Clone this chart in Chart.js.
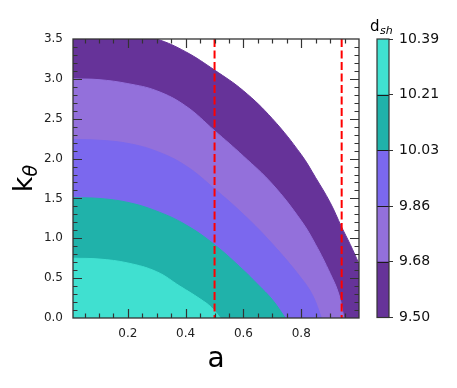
<!DOCTYPE html>
<html><head><meta charset="utf-8">
<script src="https://cdn.jsdelivr.net/npm/chart.js@4/dist/chart.umd.min.js"></script>
<style>
html,body{margin:0;padding:0;background:#fff;}
#wrap{position:relative;width:457px;height:388px;background:#fff;}
canvas{position:absolute;left:0;top:0;}
</style></head><body>
<div id="wrap"><canvas id="main" width="457" height="388"></canvas><canvas id="cbar" width="457" height="388"></canvas></div>
<script>
// contour levels of d_sh and band colours
const levels = [9.500, 9.678, 9.856, 10.034, 10.212, 10.390];
const bandColors = ['#663399', '#9370DB', '#7B68EE', '#20B2AA', '#40E0D0'];

// boundary curves k_theta(a)
const aEdge = [0.01, 0.1, 0.2, 0.3, 0.4, 0.5, 0.6, 0.7, 0.8, 0.85, 0.9, 0.94, 0.97, 1.0];
const kEdge = [3.66, 3.64, 3.58, 3.50, 3.34, 3.11, 2.85, 2.50, 2.05, 1.76, 1.45, 1.14, 0.92, 0.68];
const a968 = [0.01, 0.1, 0.2, 0.3, 0.4, 0.5, 0.6, 0.7, 0.8, 0.85, 0.9, 0.93, 0.948];
const k968 = [3.00, 2.99, 2.94, 2.85, 2.66, 2.35, 2.03, 1.68, 1.22, 0.92, 0.56, 0.30, 0.0];
const a986 = [0.01, 0.1, 0.2, 0.3, 0.4, 0.5, 0.6, 0.7, 0.8, 0.84, 0.87];
const k986 = [2.24, 2.23, 2.19, 2.09, 1.91, 1.62, 1.30, 0.93, 0.50, 0.28, 0.0];
const a1003 = [0.01, 0.1, 0.2, 0.3, 0.4, 0.5, 0.6, 0.65, 0.7, 0.745];
const k1003 = [1.51, 1.50, 1.45, 1.34, 1.17, 0.92, 0.60, 0.42, 0.23, 0.0];
const a1021 = [0.01, 0.1, 0.2, 0.3, 0.38, 0.45, 0.49, 0.52];
const k1021 = [0.75, 0.74, 0.69, 0.58, 0.40, 0.24, 0.13, 0.0];

// dashed vertical markers
const dashedA = [0.5, 0.94];

// tick labels
const xTickValues = [0.2, 0.4, 0.6, 0.8];
const yTickValues = [0.0, 0.5, 1.0, 1.5, 2.0, 2.5, 3.0, 3.5];
const xMinorStep = 0.05, yMinorStep = 0.1;

const FONT = "'DejaVu Sans', sans-serif";
const curves = [[aEdge, kEdge], [a968, k968], [a986, k986], [a1003, k1003], [a1021, k1021]];

const datasets = curves.map(([A, K], i) => ({
  data: A.map((x, j) => ({x: x, y: K[j]})),
  backgroundColor: bandColors[i],
  borderColor: bandColors[i],
  borderWidth: 1,
  pointRadius: 0,
  fill: 'origin',
  tension: 0.4,
  order: 10 - i
}));
dashedA.forEach(x => datasets.push({
  data: [{x: x, y: 3.5}, {x: x, y: 0}],
  borderColor: '#ff0000',
  borderWidth: 2,
  borderDash: [8, 3.5],
  pointRadius: 0,
  fill: false,
  order: 0
}));

const framePlugin = {
  id: 'frame',
  afterDatasetsDraw(chart) {
    const ctx = chart.ctx, ca = chart.chartArea;
    const xs = chart.scales.x, ys = chart.scales.y;
    ctx.save();
    ctx.strokeStyle = '#333';
    ctx.lineWidth = 1.2;
    const majL = 9, minL = 4.5;
    function vt(px, len) {
      ctx.beginPath();
      ctx.moveTo(px, ca.bottom); ctx.lineTo(px, ca.bottom - len);
      ctx.moveTo(px, ca.top); ctx.lineTo(px, ca.top + len);
      ctx.stroke();
    }
    function ht(py, len) {
      ctx.beginPath();
      ctx.moveTo(ca.left, py); ctx.lineTo(ca.left + len, py);
      ctx.moveTo(ca.right, py); ctx.lineTo(ca.right - len, py);
      ctx.stroke();
    }
    for (let i = 1; i * xMinorStep < xs.max; i++) {
      const v = i * xMinorStep;
      const major = xTickValues.some(t => Math.abs(t - v) < 1e-6);
      vt(Math.round(xs.getPixelForValue(v)) + 0.5, major ? majL : minL);
    }
    for (let i = 1; i * yMinorStep < ys.max - 1e-6; i++) {
      const v = i * yMinorStep;
      const major = yTickValues.some(t => Math.abs(t - v) < 1e-6);
      ht(Math.round(ys.getPixelForValue(v)) + 0.5, major ? majL : minL);
    }
    ctx.lineWidth = 1.3;
    ctx.strokeRect(ca.left, ca.top, ca.right - ca.left, ca.bottom - ca.top);
    ctx.restore();
  },
  afterDraw(chart) {
    const ctx = chart.ctx, ca = chart.chartArea;
    ctx.save();
    ctx.fillStyle = '#000';
    ctx.font = "28px " + FONT;
    ctx.textAlign = 'center';
    ctx.textBaseline = 'alphabetic';
    ctx.fillText('a', (ca.left + ca.right) / 2, 367);
    ctx.translate(31.5, (ca.top + ca.bottom) / 2);
    ctx.rotate(-Math.PI / 2);
    ctx.textAlign = 'left';
    ctx.font = "27px " + FONT;
    const wk = ctx.measureText('k').width;
    ctx.font = "italic 19px " + FONT;
    const wt = ctx.measureText('θ').width;
    const x0 = -(wk + wt) / 2;
    ctx.font = "27px " + FONT;
    ctx.fillText('k', x0, 0);
    ctx.font = "italic 19px " + FONT;
    ctx.fillText('θ', x0 + wk, 5);
    ctx.restore();
  }
};

new Chart(document.getElementById('main'), {
  type: 'line',
  data: {datasets: datasets},
  options: {
    responsive: false,
    animation: false,
    devicePixelRatio: 1,
    layout: {padding: {left: 0, top: 39, right: 98, bottom: 0}},
    plugins: {legend: {display: false}, tooltip: {enabled: false}},
    scales: {
      x: {
        type: 'linear', min: 0.01, max: 1.0,
        afterBuildTicks: s => { s.ticks = xTickValues.map(v => ({value: v})); },
        afterFit: s => { s.height = 70; },
        ticks: {font: {family: FONT, size: 12}, color: '#222', padding: 9,
                callback: v => Number(v).toFixed(1), maxRotation: 0, autoSkip: false},
        grid: {display: false, drawTicks: false},
        border: {display: false}
      },
      y: {
        type: 'linear', min: 0, max: 3.5,
        afterBuildTicks: s => { s.ticks = yTickValues.map(v => ({value: v})); },
        afterFit: s => { s.width = 73; },
        ticks: {font: {family: FONT, size: 12}, color: '#222', padding: 10,
                callback: v => Number(v).toFixed(1), autoSkip: false},
        grid: {display: false, drawTicks: false},
        border: {display: false}
      }
    }
  },
  plugins: [framePlugin]
});

const cbarPlugin = {
  id: 'cbarFrame',
  afterDatasetsDraw(chart) {
    const ctx = chart.ctx, ca = chart.chartArea, ys = chart.scales.y;
    ctx.save();
    ctx.strokeStyle = '#1a1a1a';
    ctx.lineWidth = 1;
    for (let i = 1; i < levels.length - 1; i++) {
      const py = Math.round(ys.getPixelForValue(levels[i])) + 0.5;
      ctx.beginPath(); ctx.moveTo(ca.left, py); ctx.lineTo(ca.right, py); ctx.stroke();
    }
    ctx.strokeStyle = '#333';
    ctx.lineWidth = 1.2;
    ctx.strokeRect(ca.left, ca.top, ca.right - ca.left, ca.bottom - ca.top);
    ctx.restore();
  },
  afterDraw(chart) {
    const ctx = chart.ctx;
    ctx.save();
    ctx.fillStyle = '#000';
    ctx.textBaseline = 'alphabetic';
    ctx.font = "15px " + FONT;
    ctx.fillText('d', 370, 31);
    const wd = ctx.measureText('d').width;
    ctx.font = "italic 11px " + FONT;
    ctx.fillText('sh', 370 + wd + 0.5, 34);
    ctx.restore();
  }
};

new Chart(document.getElementById('cbar'), {
  type: 'bar',
  data: {
    labels: ['d'],
    datasets: bandColors.map((c, i) => ({
      data: [[levels[i], levels[i + 1]]],
      backgroundColor: c,
      borderWidth: 0,
      barPercentage: 1,
      categoryPercentage: 1,
      grouped: false
    }))
  },
  options: {
    responsive: false,
    animation: false,
    devicePixelRatio: 1,
    layout: {padding: {left: 377, top: 39, right: 0, bottom: 70.5}},
    plugins: {legend: {display: false}, tooltip: {enabled: false}},
    scales: {
      x: {display: false},
      y: {
        position: 'right', min: levels[0], max: levels[levels.length - 1],
        afterBuildTicks: s => { s.ticks = levels.map(v => ({value: v})); },
        afterFit: s => { s.width = 68; },
        ticks: {font: {family: FONT, size: 14}, color: '#111', padding: 6,
                callback: v => Number(v).toFixed(2), autoSkip: false},
        grid: {drawOnChartArea: false, drawTicks: true, tickLength: 4, color: '#333', lineWidth: 1},
        border: {display: false}
      }
    }
  },
  plugins: [cbarPlugin]
});
</script>
</body></html>
